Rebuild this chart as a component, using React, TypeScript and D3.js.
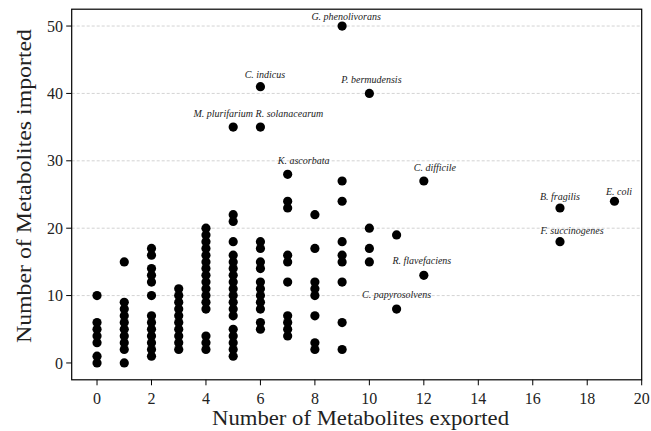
import React from "react";
import { scaleLinear, range } from "d3";

const WIDTH = 651;
const HEIGHT = 431;
const LEFT = 71.7;
const RIGHT = 641.7;
const TOP = 9.2;
const BOTTOM = 379.8;
const DOT_R = 4.6;
const FONT = "'Liberation Serif', 'Times New Roman', serif";

// number of metabolites exported (x) and the imported counts seen at each
const exportedValues = [0, 1, 2, 3, 4, 5, 6, 7, 8, 9, 10, 11, 12, 17, 19];
const importedByExported: number[][] = [
    [10, 6, 5, 4, 3, 1, 0],
    [15, 9, 8, 7, 6, 5, 4, 3, 2, 0],
    [17, 16, 14, 13, 12, 10, 7, 6, 5, 4, 3, 2, 1],
    [11, 10, 9, 8, 7, 6, 5, 4, 3, 2],
    [20, 19, 18, 17, 16, 15, 14, 13, 12, 11, 10, 9, 8, 4, 3, 2],
    [35, 22, 21, 18, 16, 15, 14, 13, 12, 11, 10, 9, 8, 7, 5, 4, 3, 2, 1],
    [41, 35, 18, 17, 15, 14, 12, 11, 10, 9, 8, 6, 5],
    [28, 24, 23, 16, 15, 12, 7, 6, 5, 4],
    [22, 17, 12, 11, 10, 7, 3, 2],
    [50, 27, 24, 18, 16, 15, 12, 6, 2],
    [40, 20, 17, 15],
    [19, 8],
    [27, 13],
    [23, 18],
    [24],
];

// annotated species
const speciesNames = [
    "G. phenolivorans",
    "C. indicus",
    "P. bermudensis",
    "M. plurifarium",
    "R. solanacearum",
    "K. ascorbata",
    "C. difficile",
    "B. fragilis",
    "E. coli",
    "F. succinogenes",
    "R. flavefaciens",
    "C. papyrosolvens",
];
const speciesExported = [9, 6, 10, 5, 6, 7, 12, 17, 19, 17, 12, 11];
const speciesImported = [50, 41, 40, 35, 35, 28, 27, 23, 24, 18, 13, 8];

// label placement relative to its point, in px
const labelOffsets: [number, number][] = [
    [4, -6],
    [4.5, -8.5],
    [2, -10.5],
    [-10, -10],
    [29, -10],
    [16, -10],
    [11, -10],
    [0, -7.5],
    [4.5, -6],
    [12, -7.5],
    [-2, -11.5],
    [0, -11],
];

const xTicks = range(0, 21, 2);
const yTicks = [0, 10, 20, 30, 40, 50];

export default function App() {
    const x = scaleLinear().domain([-0.93, 20]).range([LEFT, RIGHT]);
    const y = scaleLinear().domain([-2.5, 52.5]).range([BOTTOM, TOP]);

    const points = exportedValues.flatMap((ex, i) =>
        importedByExported[i].map(im => ({ ex, im })),
    );

    return (
        <svg
            width={WIDTH}
            height={HEIGHT}
            style={{ position: "absolute", left: 0, top: 0, background: "#fff" }}
            fontFamily={FONT}
        >
            {/* grid */}
            {yTicks
                .filter(t => t > 0)
                .map(t => (
                    <line
                        key={"g" + t}
                        x1={LEFT}
                        x2={RIGHT}
                        y1={y(t)}
                        y2={y(t)}
                        stroke="#c8c8c8"
                        strokeWidth={0.8}
                        strokeDasharray="3,2"
                    />
                ))}

            {/* points */}
            {points.map((p, i) => (
                <circle key={i} cx={x(p.ex)} cy={y(p.im)} r={DOT_R} fill="#000" />
            ))}

            {/* annotations */}
            {speciesNames.map((name, i) => (
                <text
                    key={name}
                    x={x(speciesExported[i]) + labelOffsets[i][0]}
                    y={y(speciesImported[i]) + labelOffsets[i][1]}
                    textAnchor="middle"
                    fontSize={10}
                    fontStyle="italic"
                    fill="#222"
                >
                    {name}
                </text>
            ))}

            {/* frame */}
            <rect
                x={LEFT}
                y={TOP}
                width={RIGHT - LEFT}
                height={BOTTOM - TOP}
                fill="none"
                stroke="#000"
                strokeWidth={1.2}
            />

            {/* x axis */}
            {xTicks.map(t => (
                <g key={"x" + t} transform={`translate(${x(t)},0)`}>
                    <line y1={BOTTOM} y2={BOTTOM + 5.5} stroke="#000" strokeWidth={1} />
                    <text y={404} textAnchor="middle" fontSize={16} fill="#222">
                        {t}
                    </text>
                </g>
            ))}

            {/* y axis */}
            {yTicks.map(t => (
                <g key={"y" + t} transform={`translate(0,${y(t)})`}>
                    <line x1={LEFT - 5.5} x2={LEFT} stroke="#000" strokeWidth={1} />
                    <text x={63} dy="0.35em" textAnchor="end" fontSize={16} fill="#222">
                        {t}
                    </text>
                </g>
            ))}

            <text
                x={360.5}
                y={425}
                textAnchor="middle"
                fontSize={21}
                fill="#222"
                textLength={297}
                lengthAdjust="spacingAndGlyphs"
            >
                Number of Metabolites exported
            </text>
            <text
                transform={`translate(30.5,186) rotate(-90)`}
                textAnchor="middle"
                fontSize={21}
                fill="#222"
                textLength={314}
                lengthAdjust="spacingAndGlyphs"
            >
                Number of Metabolites imported
            </text>
        </svg>
    );
}
